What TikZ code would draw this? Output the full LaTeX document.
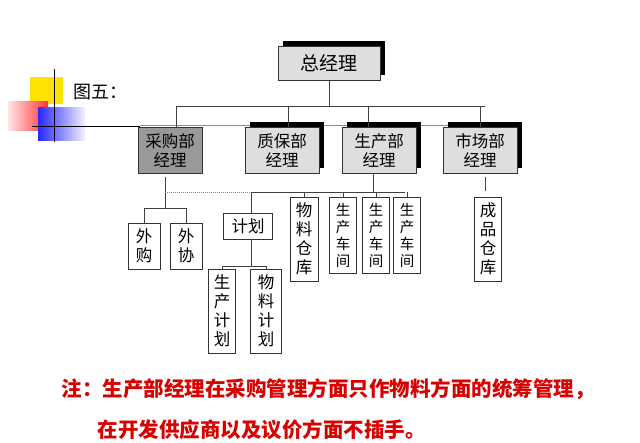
\documentclass[tikz,border=0pt]{standalone}
\usepackage{fontspec}
\setmainfont{Noto Sans CJK SC}
\usetikzlibrary{shadows}
\tikzset{
  box/.style = {draw=black!80, line width=0.8pt, fill=white, inner sep=1pt,
    font=\fontsize{16.5}{19}\selectfont, align=center},
  mgr/.style = {box, fill=black!13, minimum width=74pt, minimum height=46pt,
    drop shadow={shadow xshift=5pt, shadow yshift=5pt, fill=black, opacity=1}},
  tall/.style = {box, minimum width=28pt},
  shop/.style = {tall, minimum width=27pt, minimum height=76pt, font=\fontsize{14.5}{17}\selectfont},
  link/.style = {draw=black!75, line width=0.9pt}
}
\begin{document}
\begin{tikzpicture}[x=1pt,y=-1pt]
  \useasboundingbox (0,0) rectangle (640,442);
  % logo
  \fill[yellow!85!orange] (30,77) rectangle (63,104);
  \shade[left color=red!10, right color=red!80] (8,101) rectangle (48,130);
  \shade[left color=blue!85, right color=blue!5] (38,107) rectangle (85,140);
  \draw[line width=1pt] (54,69) -- (54,142);
  \draw[line width=1pt] (32,126) -- (140,126);
  \draw[black!45, line width=1pt] (140,125) -- (520,125);
  \node[anchor=west, font=\fontsize{18}{20}\selectfont] (title) at (70,92) {图五：};
  % top
  \node[mgr, minimum width=102pt, minimum height=34pt, font=\fontsize{19}{21}\selectfont] (gm) at (329,63) {总经理};
  \node[box, fill=black!40, minimum width=64pt, minimum height=46pt] (buy) at (170,150) {采购部\\经理};
  \node[mgr] (qa) at (282,150) {质保部\\经理};
  \node[mgr] (prod) at (379,150) {生产部\\经理};
  \node[mgr] (mkt) at (480,150) {市场部\\经理};
  \coordinate (hub) at (329,106);
  \draw[link] (gm.south) -- (hub);
  \draw[link] (176,106) -- (485,106);
  \foreach \x in {176,288,368,480}
    \draw[link] (\x,106) -- (\x,127);
  % purchasing
  \node[tall, minimum width=32pt, minimum height=46pt] (out1) at (144,246) {外\\购};
  \node[tall, minimum width=32pt, minimum height=46pt] (out2) at (186,246) {外\\协};
  \draw[link, line width=0.6pt] (165,177) -- (165,208);
  \draw[link, line width=0.6pt] (144,223) |- (186,208) -- (out2.north);
  \draw[black!50, densely dotted, line width=1pt] (165,192) -- (251,192);
  % production
  \draw[link] (373,173) -- (373,192);
  \draw[link] (251,192) -- (405,192);
  \node[box, minimum width=49pt, minimum height=26pt] (plan) at (248,226) {计划};
  \draw[link] (251,192) -- (251,213);
  \node[tall, minimum height=84pt] (mat) at (304,239) {物\\料\\仓\\库};
  \node[shop] (ws1) at (343,235) {生\\产\\车\\间};
  \node[shop] (ws2) at (376,235) {生\\产\\车\\间};
  \node[shop] (ws3) at (407,235) {生\\产\\车\\间};
  \foreach \n in {mat,ws1,ws2,ws3}
    \draw[link] (\n.north |- 0,192) -- (\n.north);
  \node[tall, minimum width=27pt, minimum height=84pt] (ppl) at (222,311) {生\\产\\计\\划};
  \node[tall, minimum width=31pt, minimum height=84pt] (mpl) at (266,311) {物\\料\\计\\划};
  \draw[link] (251,239) -- (251,266);
  \draw[link] (ppl.north) |- (mpl.north |- 0,266) -- (mpl.north);
  % market
  \node[tall, minimum width=27pt, minimum height=84pt] (fin) at (488,239) {成\\品\\仓\\库};
  \draw[link] (485,177) -- (485,191);
  % note
  \node[anchor=west, text=red!85!black, font=\bfseries\fontsize{20.5}{23}\selectfont] (note1) at (58,389) {注：生产部经理在采购管理方面只作物料方面的统筹管理，};
  \node[anchor=west, text=red!85!black, font=\bfseries\fontsize{20.5}{23}\selectfont] (note2) at (94,430) {在开发供应商以及议价方面不插手。};
\end{tikzpicture}
\end{document}
